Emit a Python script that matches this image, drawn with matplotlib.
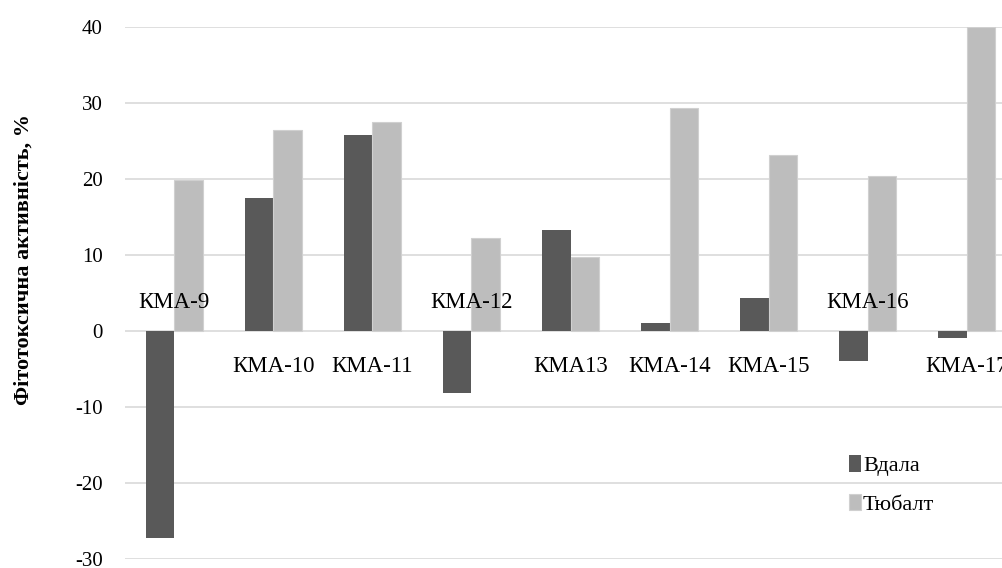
import matplotlib
matplotlib.use("Agg")
import matplotlib.pyplot as plt
import numpy as np

plt.rcParams['font.family'] = ['Liberation Serif', 'DejaVu Serif']
plt.rcParams['axes.unicode_minus'] = False

# data
categories = ["КМА-9", "КМА-10", "КМА-11", "КМА-12", "КМА13",
              "КМА-14", "КМА-15", "КМА-16", "КМА-17"]
vdala = [-27.2, 17.5, 25.8, -8.2, 13.3, 1.1, 4.3, -3.9, -0.9]
tyubalt = [19.9, 26.4, 27.5, 12.3, 9.7, 29.3, 23.2, 20.4, 40.0]
# category labels sit above the zero line for these ones
labels_above = ["КМА-9", "КМА-12", "КМА-16"]

fig = plt.figure(figsize=(10.03, 5.68), dpi=100)
ax = fig.add_axes([0.1246, 0.0158, 0.8884, 0.9367])

x = np.arange(len(categories))
w = 1 / 3.5
ax.bar(x - w / 2, vdala, w, color='#595959', label='Вдала', zorder=3)
ax.bar(x + w / 2, tyubalt, w, color='#bdbdbd', edgecolor='#d0d0d0',
       linewidth=0.8, label='Тюбалт', zorder=3)

ax.set_xlim(-0.5, len(categories) - 0.5)
ax.set_ylim(-30, 40)
ax.set_yticks(range(-30, 41, 10))
ax.yaxis.grid(True, color='#d9d9d9', linewidth=1.2, zorder=0)
ax.set_xticks([])
for s in ax.spines.values():
    s.set_visible(False)
ax.tick_params(axis='y', length=0, pad=16, labelsize=15)

# category names placed next to the zero line
for i, c in enumerate(categories):
    yy = 3.7 if c in labels_above else -4.7
    ax.text(i, yy, c, ha='center', va='center', fontsize=16.5, zorder=4)

fig.text(0.024, 0.544, "Фітотоксична активність, %", rotation=90,
         ha='center', va='center', fontsize=16, fontweight='bold')

fig.legend(loc='upper left', bbox_to_anchor=(0.835, 0.218), frameon=False,
           fontsize=16, handlelength=0.55, handleheight=0.75,
           handletextpad=0.1, labelspacing=0.8, borderpad=0)

fig.savefig("out.png", dpi=100)
